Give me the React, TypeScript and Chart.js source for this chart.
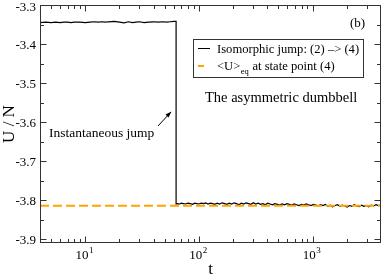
import React, { useEffect, useRef } from "react";
import { Chart, registerables } from "chart.js";
Chart.register(...registerables);

// ---- data ----
const tPre = [4, 4.5, 5, 5.5, 6, 6.5, 7, 7.5, 8, 9, 10, 11, 12, 13, 14, 15, 16, 18, 20, 22, 24, 26, 28, 30, 33, 36, 40, 44, 48, 52, 56, 60, 63];
const uPre = [-3.345, -3.344, -3.345, -3.344, -3.345, -3.344, -3.344, -3.345, -3.344, -3.344, -3.345, -3.344, -3.343, -3.344, -3.343, -3.344, -3.343, -3.342, -3.344, -3.346, -3.343, -3.345, -3.344, -3.343, -3.345, -3.344, -3.343, -3.344, -3.343, -3.344, -3.343, -3.342, -3.342];
const tPost = [63, 65, 68, 70, 73, 76, 80, 84, 88, 92, 96, 100, 105, 110, 115, 120, 126, 132, 138, 145, 152, 160, 168, 176, 185, 194, 204, 214, 225, 236, 248, 260, 273, 287, 301, 316, 332, 349, 366, 384, 403, 423, 444, 466, 490, 514, 540, 567, 595, 625, 656, 689, 723, 759, 797, 837, 879, 923, 969, 1017, 1068, 1121, 1177, 1236, 1298, 1363, 1431, 1503, 1578, 1657, 1740, 1827, 1918, 2014, 2115, 2220, 2331, 2448, 2570, 2699, 2834, 2975, 3124, 3280, 3444, 3617, 3798, 4000];
const uPost = [-3.810, -3.809, -3.810, -3.808, -3.809, -3.810, -3.808, -3.809, -3.811, -3.808, -3.809, -3.810, -3.808, -3.809, -3.807, -3.810, -3.808, -3.809, -3.811, -3.808, -3.810, -3.807, -3.809, -3.811, -3.808, -3.810, -3.807, -3.809, -3.812, -3.808, -3.810, -3.807, -3.809, -3.811, -3.807, -3.810, -3.808, -3.811, -3.809, -3.812, -3.808, -3.810, -3.812, -3.809, -3.811, -3.813, -3.810, -3.812, -3.809, -3.811, -3.813, -3.810, -3.812, -3.814, -3.811, -3.813, -3.810, -3.812, -3.814, -3.811, -3.813, -3.815, -3.812, -3.814, -3.811, -3.816, -3.813, -3.817, -3.814, -3.812, -3.816, -3.813, -3.815, -3.818, -3.814, -3.816, -3.812, -3.815, -3.817, -3.813, -3.816, -3.814, -3.817, -3.813, -3.815, -3.812, -3.814, -3.813];
const eqT = [4, 4000];
const eqU = [-3.8145, -3.8145];

const xMin = 4, xMax = 4000;
const yMin = -3.91, yMax = -3.3;
const xMajorTicks = [10, 100, 1000];
const xMajorLabels = ["1", "2", "3"];
const xMinorTicks = [5, 6, 7, 8, 9, 20, 30, 40, 50, 60, 70, 80, 90, 200, 300, 400, 500, 600, 700, 800, 900, 2000, 3000];
const yMajorTicks = [-3.9, -3.8, -3.7, -3.6, -3.5, -3.4, -3.3];
const yMajorLabels = ["-3.9", "-3.8", "-3.7", "-3.6", "-3.5", "-3.4", "-3.3"];
const yMinorTicks = [-3.85, -3.75, -3.65, -3.55, -3.45, -3.35];

const seriesName1 = "Isomorphic jump: (2) \u2013> (4)";
const seriesName2a = "<U>";
const seriesName2sub = "eq";
const seriesName2b = " at state point (4)";
const panelTag = "(b)";
const systemName = "The asymmetric dumbbell";
const jumpNote = "Instantaneous jump";
const xTitle = "t";
const yTitle = "U / N";

const FONT = "'Liberation Serif', 'Times New Roman', serif";
const AXIS = "#333333";

const overlay = {
  id: "overlay",
  afterDraw(chart: any) {
    const ctx = chart.ctx as CanvasRenderingContext2D;
    const { left, right, top, bottom } = chart.chartArea;
    const xs = chart.scales.x, ys = chart.scales.y;
    ctx.save();
    ctx.strokeStyle = AXIS;
    ctx.lineWidth = 1;
    const L = left + 0.5, R = right - 0.5, T = top + 0.5, B = bottom - 0.5;
    ctx.strokeRect(L, T, R - L, B - T);
    ctx.beginPath();
    const tick = (x1: number, y1: number, x2: number, y2: number) => { ctx.moveTo(x1, y1); ctx.lineTo(x2, y2); };
    for (const v of xMajorTicks) {
      const x = Math.round(xs.getPixelForValue(v)) + 0.5;
      tick(x, B, x, B - 6); tick(x, T, x, T + 6);
    }
    for (const v of xMinorTicks) {
      const x = Math.round(xs.getPixelForValue(v)) + 0.5;
      tick(x, B, x, B - 3.5); tick(x, T, x, T + 3.5);
    }
    for (const v of yMajorTicks) {
      const y = Math.round(ys.getPixelForValue(v)) + 0.5;
      tick(L, y, L + 6, y); tick(R, y, R - 6, y);
    }
    for (const v of yMinorTicks) {
      const y = Math.round(ys.getPixelForValue(v)) + 0.5;
      tick(L, y, L + 3.5, y); tick(R, y, R - 3.5, y);
    }
    ctx.stroke();

    ctx.fillStyle = "#000";
    // y tick labels
    ctx.font = `13px ${FONT}`;
    ctx.textAlign = "right";
    ctx.textBaseline = "middle";
    yMajorTicks.forEach((v, i) => {
      let y = ys.getPixelForValue(v) + 1.5;
      if (i === yMajorTicks.length - 1) y += 1.5;
      ctx.fillText(yMajorLabels[i], left - 4, y);
    });
    // x tick labels 10^n
    xMajorTicks.forEach((v, i) => {
      const x = xs.getPixelForValue(v);
      ctx.font = `13px ${FONT}`;
      const w1 = ctx.measureText("10").width;
      ctx.font = `9px ${FONT}`;
      const w2 = ctx.measureText(xMajorLabels[i]).width;
      const x0 = x - (w1 + w2) / 2 - 1;
      ctx.textAlign = "left";
      ctx.textBaseline = "alphabetic";
      ctx.font = `13px ${FONT}`;
      ctx.fillText("10", x0, bottom + 16);
      ctx.font = `9px ${FONT}`;
      ctx.fillText(xMajorLabels[i], x0 + w1 + 0.5, bottom + 10);
    });
    // axis titles
    ctx.font = `17px ${FONT}`;
    ctx.textAlign = "center";
    ctx.textBaseline = "alphabetic";
    ctx.fillText(xTitle, (left + right) / 2, 274);
    ctx.save();
    ctx.translate(14, (top + bottom) / 2);
    ctx.rotate(-Math.PI / 2);
    ctx.fillText(yTitle, 0, 0);
    ctx.restore();

    // panel tag
    ctx.font = `13px ${FONT}`;
    ctx.textAlign = "left";
    ctx.fillText(panelTag, 350, 27);
    // system name
    ctx.font = `14.5px ${FONT}`;
    ctx.fillText(systemName, 205, 102);
    // jump note
    ctx.font = `13.5px ${FONT}`;
    ctx.fillText(jumpNote, 49, 137);
    // arrow
    ctx.strokeStyle = "#000";
    ctx.lineWidth = 1;
    ctx.beginPath();
    ctx.moveTo(158, 126);
    ctx.lineTo(171, 112);
    ctx.stroke();
    ctx.beginPath();
    ctx.moveTo(171.5, 111.5);
    ctx.lineTo(165.5, 114.5);
    ctx.lineTo(168.5, 117.5);
    ctx.closePath();
    ctx.fill();

    // legend box
    ctx.fillStyle = "#fff";
    ctx.fillRect(193.5, 39.5, 170, 38);
    ctx.strokeStyle = AXIS;
    ctx.strokeRect(193.5, 39.5, 170, 38);
    ctx.strokeStyle = "#000";
    ctx.beginPath();
    ctx.moveTo(198, 48.5);
    ctx.lineTo(210, 48.5);
    ctx.stroke();
    ctx.strokeStyle = "#FFA500";
    ctx.lineWidth = 2;
    ctx.beginPath();
    ctx.moveTo(198, 66);
    ctx.lineTo(204, 66);
    ctx.stroke();
    ctx.fillStyle = "#000";
    ctx.font = `12.6px ${FONT}`;
    ctx.textBaseline = "alphabetic";
    ctx.fillText(seriesName1, 217, 52.5);
    ctx.fillText(seriesName2a, 217, 69.5);
    const wa = ctx.measureText(seriesName2a).width;
    ctx.font = `8.5px ${FONT}`;
    ctx.fillText(seriesName2sub, 217 + wa + 0.5, 74);
    const ws = ctx.measureText(seriesName2sub).width;
    ctx.font = `12.6px ${FONT}`;
    ctx.fillText(seriesName2b, 217 + wa + ws + 1, 69.5);
    ctx.restore();
  },
};

export default function App() {
  const ref = useRef<HTMLCanvasElement | null>(null);
  useEffect(() => {
    if (!ref.current) return;
    const black = [
      ...tPre.map((t, i) => ({ x: t, y: uPre[i] })),
      ...tPost.map((t, i) => ({ x: t, y: uPost[i] })),
    ];
    const eq = eqT.map((t, i) => ({ x: t, y: eqU[i] }));
    const chart = new Chart(ref.current, {
      type: "scatter",
      data: {
        datasets: [
          { data: black, showLine: true, borderColor: "#000", borderWidth: 1.2, pointRadius: 0, order: 1 } as any,
          { data: eq, showLine: true, borderColor: "#FFA500", borderWidth: 2, borderDash: [9, 4], pointRadius: 0, order: 0 } as any,
        ],
      },
      options: {
        animation: false,
        responsive: true,
        maintainAspectRatio: false,
        layout: { padding: { top: 5, right: 1, left: 0, bottom: 0 } },
        plugins: { legend: { display: false }, tooltip: { enabled: false } },
        scales: {
          x: {
            type: "logarithmic", min: xMin, max: xMax,
            ticks: { display: false }, grid: { display: false }, border: { display: false },
            afterFit: (s: any) => { s.height = 32; },
          },
          y: {
            type: "linear", min: yMin, max: yMax,
            ticks: { display: false }, grid: { display: false }, border: { display: false },
            afterFit: (s: any) => { s.width = 40; },
          },
        },
      } as any,
      plugins: [overlay],
    });
    return () => chart.destroy();
  }, []);
  return (
    <div style={{ position: "fixed", left: 0, top: 0, width: 382, height: 275, background: "#fff" }}>
      <canvas ref={ref} />
    </div>
  );
}
